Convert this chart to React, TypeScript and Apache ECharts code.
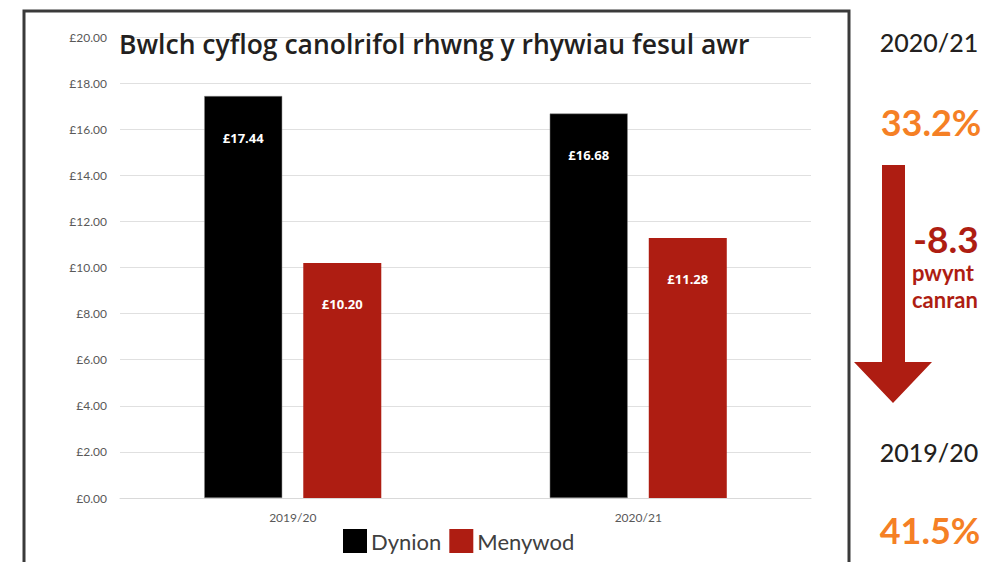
import React, { useEffect, useRef } from "react";
import * as echarts from "echarts";

const categories = ["2019/20", "2020/21"];
const dynion = [17.44, 16.68];
const menywod = [10.2, 11.28];
const seriesNames = ["Dynion", "Menywod"];
const yTicks = { min: 0, max: 20, interval: 2 };
const titleText = "Bwlch cyflog canolrifol rhwng y rhywiau fesul awr";
const sideYearTop = "2020/21";
const sideValueTop = "33.2%";
const sideChange = "-8.3";
const sideChangeUnit1 = "pwynt";
const sideChangeUnit2 = "canran";
const sideYearBottom = "2019/20";
const sideValueBottom = "41.5%";

const RED = "#AE1D12";
const ORANGE = "#F58025";

export default function App() {
  const ref = useRef<HTMLDivElement>(null);
  useEffect(() => {
    if (!ref.current) return;
    const chart = echarts.init(ref.current, undefined, { renderer: "svg" });
    const money = (v: number) => "£" + v.toFixed(2);
    const barLabel = {
      show: true,
      position: "insideTop",
      distance: 35,
      color: "#ffffff",
      fontWeight: "bold",
      fontSize: 13,
      fontFamily: "Open Sans",
      formatter: (p: any) => money(p.value),
    };
    chart.setOption({
      animation: false,
      backgroundColor: "#ffffff",
      title: {
        text: titleText,
        left: 119,
        top: 30,
        padding: 0,
        textStyle: { fontSize: 26.5, fontWeight: 600, fontFamily: "Open Sans", color: "#231f20" },
      },
      grid: { left: 120, right: 188, top: 37, bottom: 64, containLabel: false },
      legend: {
        data: seriesNames,
        left: 338,
        top: 524,
        itemWidth: 24,
        itemHeight: 24,
        itemGap: 8,
        icon: "rect",
        itemStyle: { borderWidth: 0 },
        textStyle: { fontSize: 22, fontFamily: "Lato", color: "#404040", padding: [0, 0, 0, -1] },
      },
      xAxis: {
        type: "category",
        data: categories,
        axisTick: { show: false },
        axisLine: { lineStyle: { color: "#d9d9d9" } },
        axisLabel: { fontSize: 12, fontFamily: "Lato", color: "#595959", margin: 13 },
      },
      yAxis: {
        type: "value",
        min: yTicks.min,
        max: yTicks.max,
        interval: yTicks.interval,
        axisLine: { show: false },
        axisTick: { show: false },
        splitLine: { lineStyle: { color: "#e0e0e0" } },
        axisLabel: {
          fontSize: 12,
          fontFamily: "Lato",
          color: "#595959",
          margin: 13,
          formatter: (v: number) => money(v),
        },
      },
      series: [
        {
          name: seriesNames[0],
          type: "bar",
          data: dynion,
          barWidth: 78,
          barGap: "27%",
          itemStyle: { color: "#000000", borderColor: "#8a8a8a", borderWidth: 0.5 },
          label: barLabel,
        },
        {
          name: seriesNames[1],
          type: "bar",
          data: menywod,
          barWidth: 78,
          itemStyle: { color: RED },
          label: barLabel,
        },
      ],
      graphic: [
        {
          type: "rect",
          shape: { x: 24, y: 11, width: 825, height: 620 },
          style: { fill: "none", stroke: "#3a3a3a", lineWidth: 3 },
          silent: true,
        },
        {
          type: "polygon",
          shape: {
            points: [
              [882, 165],
              [905, 165],
              [905, 362],
              [932, 362],
              [893, 403],
              [854, 362],
              [882, 362],
            ],
          },
          style: { fill: RED },
        },
        {
          type: "text",
          x: 929,
          y: 42,
          style: { text: sideYearTop, fontSize: 25, fontWeight: 500, fontFamily: "Lato", fill: "#231f20", align: "center", verticalAlign: "middle" },
        },
        {
          type: "text",
          x: 931,
          y: 122,
          style: { text: sideValueTop, fontSize: 36, fontWeight: "bold", fontFamily: "Lato", fill: ORANGE, align: "center", verticalAlign: "middle" },
        },
        {
          type: "text",
          x: 946,
          y: 238,
          style: { text: sideChange, fontSize: 37, fontWeight: "bold", fontFamily: "Lato", fill: RED, align: "center", verticalAlign: "middle" },
        },
        {
          type: "text",
          x: 912,
          y: 272,
          style: { text: sideChangeUnit1, fontSize: 22, fontWeight: "bold", fontFamily: "Lato", fill: RED, align: "left", verticalAlign: "middle" },
        },
        {
          type: "text",
          x: 912,
          y: 299,
          style: { text: sideChangeUnit2, fontSize: 22, fontWeight: "bold", fontFamily: "Lato", fill: RED, align: "left", verticalAlign: "middle" },
        },
        {
          type: "text",
          x: 929,
          y: 452,
          style: { text: sideYearBottom, fontSize: 25, fontWeight: 500, fontFamily: "Lato", fill: "#231f20", align: "center", verticalAlign: "middle" },
        },
        {
          type: "text",
          x: 930,
          y: 530,
          style: { text: sideValueBottom, fontSize: 36, fontWeight: "bold", fontFamily: "Lato", fill: ORANGE, align: "center", verticalAlign: "middle" },
        },
      ],
    });
    return () => chart.dispose();
  }, []);
  return (
    <div
      ref={ref}
      style={{ position: "absolute", left: 0, top: 0, width: 999, height: 562 }}
    />
  );
}
